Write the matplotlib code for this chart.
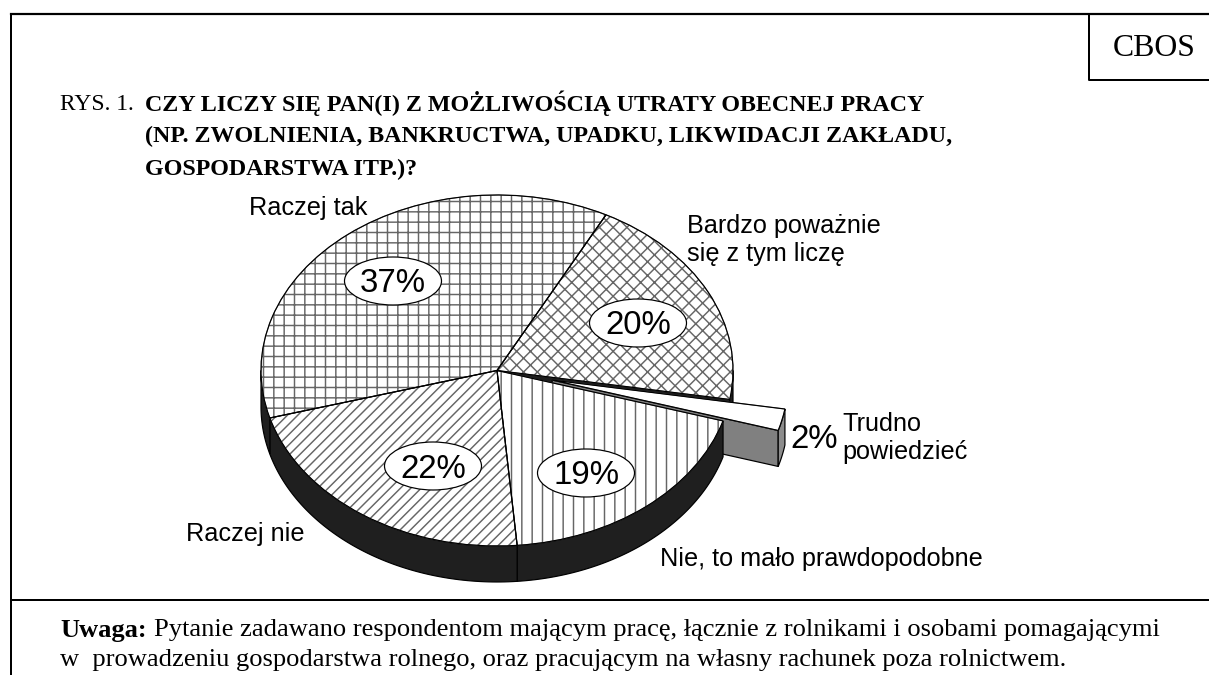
import numpy as np
import matplotlib
matplotlib.use("Agg")
import matplotlib.pyplot as plt
from matplotlib.patches import Ellipse, Polygon

categories = ["Bardzo poważnie\nsię z tym liczę", "Trudno\npowiedzieć", "Nie, to mało prawdopodobne", "Raczej nie", "Raczej tak"]
values = [20, 2, 19, 22, 37]
explode = [0, 0.24, 0, 0, 0]
hatches = ["xxx", "", "||", "////", "++"]

title_lines = ["CZY LICZY SIĘ PAN(I) Z MOŻLIWOŚCIĄ UTRATY OBECNEJ PRACY",
               "(NP. ZWOLNIENIA, BANKRUCTWA, UPADKU, LIKWIDACJI ZAKŁADU,",
               "GOSPODARSTWA ITP.)?"]
note_bold = "Uwaga:"
note_1 = "Pytanie zadawano respondentom mającym pracę, łącznie z rolnikami i osobami pomagającymi"
note_2 = "w  prowadzeniu gospodarstwa rolnego, oraz pracującym na własny rachunek poza rolnictwem."

W, H, DPI = 1209, 675, 124
CX, CY, A, B, DEPTH = 497, 370.5, 236, 175.5, 0.205
px = 72 / DPI
plt.rcParams["hatch.linewidth"] = 0.85

fig = plt.figure(figsize=(W / DPI, H / DPI), dpi=DPI, facecolor="white")
ax = fig.add_axes([0, 0, 1, 1])
wedges, _ = ax.pie(values, explode=explode, startangle=62.5, counterclock=False, radius=1,
                   hatch=hatches, wedgeprops=dict(facecolor="white", edgecolor="#666666", linewidth=0.5))
outl, _ = ax.pie(values, explode=explode, startangle=62.5, counterclock=False, radius=1,
                 wedgeprops=dict(fill=False, edgecolor="black", linewidth=0.7))
ax.set_aspect("auto")
ax.set_xlim(-CX / A, (W - CX) / A)
ax.set_ylim(-(H - CY) / B, CY / B)
ax.set_axis_off()


def arc_wall(w, z, color):
    t1, t2 = max(w.theta1, -180), min(w.theta2, 0)
    if t2 <= t1:
        return
    t = np.radians(np.linspace(t1, t2, 80))
    x, y = w.center[0] + np.cos(t), w.center[1] + np.sin(t)
    pts = np.vstack([np.c_[x, y], np.c_[x, y - DEPTH][::-1]])
    ax.add_patch(Polygon(pts, closed=True, fc=color, ec="black", lw=0.7, zorder=z))


def radial_wall(w, theta, z, color):
    c = w.center
    t = np.radians(theta)
    rim = (c[0] + np.cos(t), c[1] + np.sin(t))
    pts = [c, rim, (rim[0], rim[1] - DEPTH), (c[0], c[1] - DEPTH)]
    ax.add_patch(Polygon(pts, closed=True, fc=color, ec="black", lw=0.7, zorder=z))


# draw order: main slice's inner wall, exploded slice, front walls, top faces
radial_wall(wedges[0], wedges[0].theta1, 1, "#1f1f1f")
arc_wall(wedges[0], 1, "#1f1f1f")
radial_wall(wedges[1], wedges[1].theta1, 2, "#808080")
arc_wall(wedges[1], 2, "#8c8c8c")
for i, (w, o) in enumerate(zip(wedges, outl)):
    z = 3 if i == 1 else 6
    w.set_zorder(z)
    o.set_zorder(z + 0.5)
for i in (2, 3, 4):
    arc_wall(wedges[i], 5, "#1f1f1f")

# overlay in image pixels
ov = fig.add_axes([0, 0, 1, 1], facecolor="none")
ov.set_xlim(0, W)
ov.set_ylim(H, 0)
ov.set_axis_off()

ov.plot([11, W], [14, 14], color="black", lw=2.2 * px, solid_capstyle="projecting")
ov.plot([11, 11], [14, H], color="black", lw=2 * px, solid_capstyle="butt")
ov.plot([11, W], [600, 600], color="black", lw=2 * px, solid_capstyle="butt")
ov.plot([1089, 1089, W], [14, 79.5, 79.5], color="black", lw=2 * px, solid_capstyle="butt")

serif = "Liberation Serif"
sans = "Liberation Sans"
ov.text(1154, 48, "CBOS", family=serif, fontsize=31.7 * px, ha="center", va="center")
ov.text(60, 104, "RYS. 1.", family=serif, fontsize=23.5 * px, va="center")
for line, y in zip(title_lines, [103, 136.5, 169.5]):
    ov.text(145, y, line, family=serif, weight="bold", fontsize=24 * px, va="center")
ov.text(60, 630, note_bold, family=serif, weight="bold", fontsize=26.5 * px, va="center")
ov.text(154, 630, note_1, family=serif, fontsize=26.5 * px, va="center")
ov.text(60, 660, note_2, family=serif, fontsize=26.5 * px, va="center")

# percentage badges
badge_xy = [(638, 323), None, (586, 473), (433, 466), (393, 281)]
for v, xy in zip(values, badge_xy):
    if xy is None:
        continue
    ov.add_patch(Ellipse(xy, 97, 48, fc="white", ec="black", lw=0.7, zorder=5))
    ov.text(xy[0], xy[1] + 3, f"{v}%", family=sans, fontsize=33 * px, ha="center", va="center", zorder=6)
ov.text(790, 439, f"{values[1]}%", family=sans, fontsize=33 * px, va="center")

# category labels
label_xy = [(687, 240), (842, 438), (660, 559), (186, 534), (249, 208.5)]
for cat, (x, y) in zip(categories, label_xy):
    ov.text(x, y, cat, family=sans, fontsize=25.3 * px, va="center", linespacing=1.17)

fig.savefig("out.png", dpi=DPI)
